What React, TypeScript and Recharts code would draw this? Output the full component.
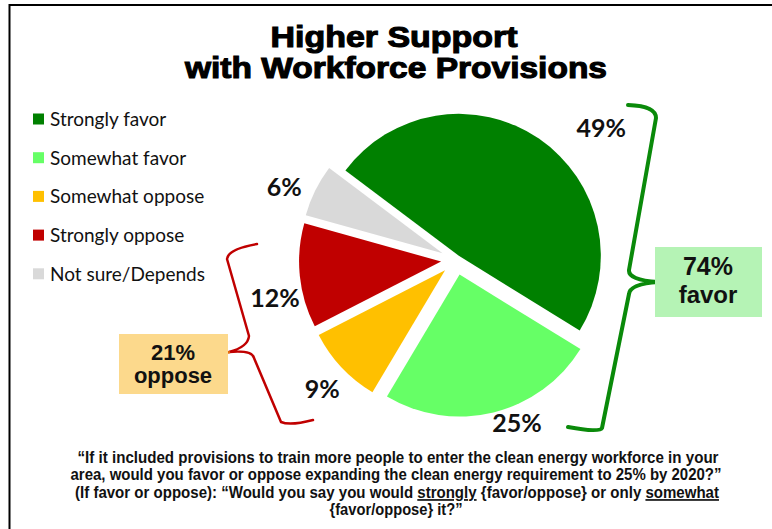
import { PieChart, Pie, Cell } from 'recharts';

const categories = ['Strongly favor', 'Somewhat favor', 'Somewhat oppose', 'Strongly oppose', 'Not sure/Depends'];
const shares = [49, 25, 9, 12, 6];
const sliceColors = ['#008000', '#66ff66', '#ffc000', '#c00000', '#d9d9d9'];

const titleLines = ['Higher Support', 'with Workforce Provisions'];
const questionLines = [
  '“If it included provisions to train more people to enter the clean energy workforce in your',
  'area, would you favor or oppose expanding the clean energy requirement to 25% by 2020?”',
];

const data = categories.map((name, i) => ({ name, value: shares[i] }));

const W = 772;
const H = 529;
const CX = 456;
const CY = 260;
const R = 142;
const START = 143;
const RAD = Math.PI / 180;

// how far each wedge is pulled out of the pie
const explodeBy: Record<string, number> = { 'Strongly favor': 5 };
const labelNudge: Record<string, [number, number]> = {
  'Strongly favor': [41, 20],
  'Somewhat favor': [17, -18],
  'Somewhat oppose': [1, 1],
  'Strongly oppose': [3, 18],
  'Not sure/Depends': [-6, 8],
};

const total = shares.reduce((a, b) => a + b, 0);
let run = 0;
const midAngles = shares.map((v) => {
  const m = START - ((run + v / 2) / total) * 360;
  run += v;
  return m;
});

const favorTotal = shares[0] + shares[1];
const opposeTotal = shares[2] + shares[3];

const labelFont = 'Lato, "Open Sans", sans-serif';
const arial = '"Liberation Sans", Arial, sans-serif';
// squeeze for the narrow question text
const SQ = 0.8;

function renderLabel(props: any) {
  const { cx, cy, midAngle, index, value } = props;
  const [nx, ny] = labelNudge[categories[index]] || [0, 0];
  const x = cx + 185 * Math.cos(-midAngle * RAD) + nx;
  const y = cy + 185 * Math.sin(-midAngle * RAD) + ny;
  return (
    <text x={x} y={y} textAnchor="middle" dominantBaseline="central" fontFamily={labelFont} fontWeight={700} fontSize={25} fill="#111">
      {value}%
    </text>
  );
}

export default function App() {
  return (
    <div style={{ position: 'fixed', left: 0, top: 0, width: W, height: H, background: '#fff', overflow: 'hidden' }}>
      <PieChart width={W} height={H} margin={{ top: 0, right: 0, bottom: 0, left: 0 }}>
        <Pie
          data={data}
          dataKey="value"
          nameKey="name"
          cx={CX}
          cy={CY}
          outerRadius={R}
          startAngle={START}
          endAngle={START - 360}
          stroke="none"
          label={renderLabel}
          labelLine={false}
          isAnimationActive={false}
        >
          {data.map((d, i) => {
            const e = explodeBy[d.name] ?? 15;
            const dx = e * Math.cos(-midAngles[i] * RAD);
            const dy = e * Math.sin(-midAngles[i] * RAD);
            const t = `translate(${dx.toFixed(2)}px, ${dy.toFixed(2)}px)`;
            return <Cell key={d.name} fill={sliceColors[i]} style={{ transform: t }} />;
          })}
        </Pie>
      </PieChart>

      <svg width={W} height={H} style={{ position: 'absolute', left: 0, top: 0, pointerEvents: 'none' }}>
        {/* frame */}
        <line x1={9} y1={5} x2={W} y2={5} stroke="#000" strokeWidth={2} />
        <line x1={9.5} y1={4} x2={9.5} y2={H} stroke="#000" strokeWidth={2} />

        {/* title */}
        <text x={394} y={47} textAnchor="middle" fontFamily={arial} fontWeight={700} fontSize={30} stroke="#000" strokeWidth={1.1} textLength={247} lengthAdjust="spacingAndGlyphs">
          {titleLines[0]}
        </text>
        <text x={396} y={78} textAnchor="middle" fontFamily={arial} fontWeight={700} fontSize={30} stroke="#000" strokeWidth={1.1} textLength={422} lengthAdjust="spacingAndGlyphs">
          {titleLines[1]}
        </text>

        {/* legend */}
        {categories.map((c, i) => {
          const yc = 119 + i * 38.7;
          return (
            <g key={c}>
              <rect x={33} y={yc - 5.5} width={11} height={11} fill={sliceColors[i]} />
              <text x={50} y={yc + 7} fontFamily={labelFont} fontSize={19} fill="#111">
                {c}
              </text>
            </g>
          );
        })}

        {/* favor bracket */}
        <path
          d="M628,105 Q656,106 656,118 L629,270 Q628,280 658,282 Q630,284 629,294 L602,428 Q600,433 568,427"
          fill="none"
          stroke="#0a8a0a"
          strokeWidth={4}
          strokeLinecap="round"
          strokeLinejoin="round"
        />
        <rect x={655} y={247} width={107} height={70} fill="#b5f3b5" />
        <text x={708} y={275} textAnchor="middle" fontFamily={arial} fontWeight={700} fontSize={25} fill="#111">
          {favorTotal}%
        </text>
        <text x={708} y={303} textAnchor="middle" fontFamily={arial} fontWeight={700} fontSize={24} fill="#111">
          favor
        </text>

        {/* oppose bracket */}
        <path
          d="M257,244 Q228,249 227,259 L249,336 Q248,347 229,352 Q252,350 254,358 L281,422 Q290,426 313,420"
          fill="none"
          stroke="#c00000"
          strokeWidth={2.5}
          strokeLinecap="round"
          strokeLinejoin="round"
        />
        <line x1={218} y1={355} x2={230} y2={352} stroke="#e46c0a" strokeWidth={2.5} />
        <rect x={119} y={334} width={109} height={60} fill="#fcd98c" />
        <text x={173} y={360} textAnchor="middle" fontFamily={arial} fontWeight={700} fontSize={22} fill="#111">
          {opposeTotal}%
        </text>
        <text x={173} y={383} textAnchor="middle" fontFamily={arial} fontWeight={700} fontSize={22} fill="#111">
          oppose
        </text>

        {/* question wording */}
        <g transform={`translate(397,0) scale(${SQ},1)`} fontFamily={arial} fontWeight={700} fontSize={17} fill="#111">
          <text x={1 / SQ} y={463} textAnchor="middle" textLength={641 / SQ} lengthAdjust="spacingAndGlyphs">
            {questionLines[0]}
          </text>
          <text x={-1 / SQ} y={480} textAnchor="middle" textLength={651 / SQ} lengthAdjust="spacingAndGlyphs">
            {questionLines[1]}
          </text>
          <text x={0} y={498} textAnchor="middle" textLength={644 / SQ} lengthAdjust="spacingAndGlyphs">
            (If favor or oppose): “Would you say you would <tspan textDecoration="underline">strongly</tspan> {'{favor/oppose}'} or only{' '}
            <tspan textDecoration="underline">somewhat</tspan>
          </text>
          <text x={-1 / SQ} y={515} textAnchor="middle" textLength={133 / SQ} lengthAdjust="spacingAndGlyphs">
            {'{favor/oppose} it?”'}
          </text>
        </g>
      </svg>
    </div>
  );
}
